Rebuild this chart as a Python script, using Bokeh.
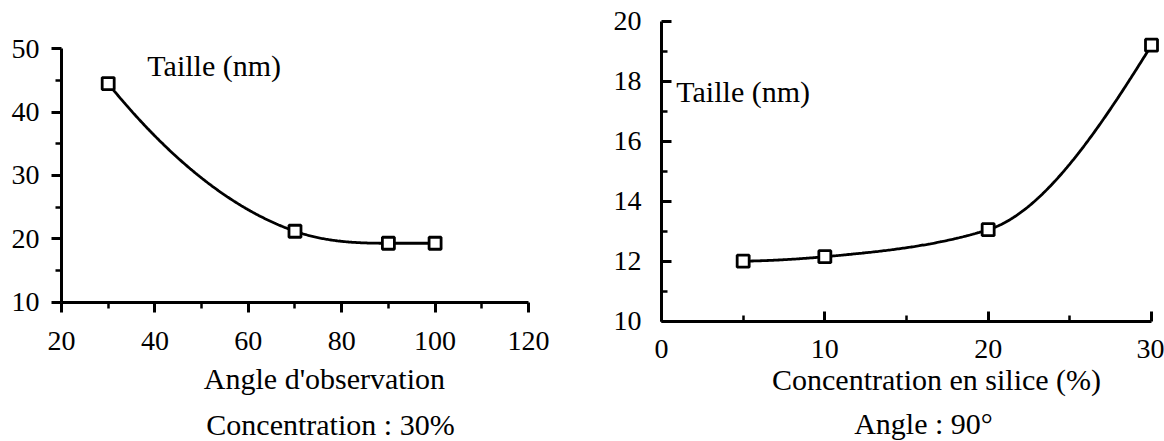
import numpy as np
from bokeh.plotting import figure
from bokeh.models import Range1d, FixedTicker, Label
from bokeh.layouts import row
from bokeh.embed import file_html
from bokeh.resources import INLINE

# ---- data ----
angle = [30, 70, 90, 100]
taille_angle = [44.5, 21.2, 19.3, 19.3]

silice = [5, 10, 20, 30]
taille_silice = [12.0, 12.15, 13.05, 19.2]

left_xticks = [20, 40, 60, 80, 100, 120]
left_xminor = [30, 50, 70, 90, 110]
left_yticks = [10, 20, 30, 40, 50]
left_yminor = [15, 25, 35, 45]

right_xticks = [0, 10, 20, 30]
right_xminor = [5, 15, 25]
right_yticks = [10, 12, 14, 16, 18, 20]
right_yminor = [11, 13, 15, 17, 19]

FONT = "Liberation Serif"


def smooth_curve(x, y, n=300):
    """Cubic Hermite smooth line through the data points (3-point slopes,
    limited so that no segment gets an inflection)."""
    x = np.asarray(x, float)
    y = np.asarray(y, float)
    h = np.diff(x)
    d = np.diff(y) / h
    m = np.zeros_like(y)
    for k in range(1, len(x) - 1):
        if d[k - 1] * d[k] > 0:
            m[k] = (h[k] * d[k - 1] + h[k - 1] * d[k]) / (h[k - 1] + h[k])
        else:
            m[k] = 0.0

    def end(h0, h1, d0, d1):
        if d0 == 0:
            return 0.0
        s = ((2 * h0 + h1) * d0 - h0 * d1) / (h0 + h1)
        if np.sign(s) != np.sign(d0):
            return 0.0
        return s

    m[0] = end(h[0], h[1], d[0], d[1])
    m[-1] = end(h[-1], h[-2], d[-1], d[-2])
    for k in range(len(h)):
        a = d[k] - m[k]
        b = m[k + 1] - d[k]
        if a * b > 0 and abs(b) > 2 * abs(a):
            m[k + 1] = d[k] + 2 * a
    xs = np.linspace(x[0], x[-1], n)
    ys = np.empty_like(xs)
    for i, xv in enumerate(xs):
        k = min(np.searchsorted(x, xv, side="right") - 1, len(x) - 2)
        t = (xv - x[k]) / h[k]
        h00 = 2 * t**3 - 3 * t**2 + 1
        h10 = t**3 - 2 * t**2 + t
        h01 = -2 * t**3 + 3 * t**2
        h11 = t**3 - t**2
        ys[i] = h00 * y[k] + h10 * h[k] * m[k] + h01 * y[k + 1] + h11 * h[k] * m[k + 1]
    return xs, ys


def style_axes(p, inside, xstand, ystand, xbounds, ybounds):
    for ax in (p.xaxis[0], p.yaxis[0]):
        ax.axis_line_width = 3
        ax.axis_line_color = "black"
        ax.major_tick_line_width = 3
        ax.minor_tick_line_width = 2.5
        ax.major_tick_line_color = "black"
        ax.minor_tick_line_color = "black"
        ax.major_label_text_font = FONT
        ax.major_label_text_font_size = "28px"
        ax.major_label_text_color = "black"
        if inside:
            ax.major_tick_in, ax.major_tick_out = 10, 0
            ax.minor_tick_in, ax.minor_tick_out = 6, 0
        else:
            ax.major_tick_in, ax.major_tick_out = 0, 10
            ax.minor_tick_in, ax.minor_tick_out = 0, 6
    p.xaxis[0].major_label_standoff = xstand
    p.yaxis[0].major_label_standoff = ystand
    p.xaxis[0].bounds = xbounds
    p.yaxis[0].bounds = ybounds
    p.xaxis[0].fixed_location = ybounds[0]
    p.yaxis[0].fixed_location = xbounds[0]
    p.xgrid.visible = False
    p.ygrid.visible = False
    p.outline_line_color = None
    p.background_fill_color = "white"
    p.border_fill_color = "white"


def lab(p, x, y, text, size="30px"):
    p.add_layout(Label(x=x, y=y, text=text, text_align="center",
                       text_baseline="alphabetic", text_font=FONT,
                       text_font_size=size, text_color="black"))


# ---- left chart ----
p1 = figure(width=590, height=441, x_range=Range1d(6.94, 133.28), y_range=Range1d(-11.99, 57.62),
            output_backend="svg", toolbar_location=None,
            min_border_left=0, min_border_right=0, min_border_top=0, min_border_bottom=0)
p1.xaxis.ticker = FixedTicker(ticks=left_xticks, minor_ticks=left_xminor)
p1.yaxis.ticker = FixedTicker(ticks=left_yticks, minor_ticks=left_yminor)
style_axes(p1, inside=False, xstand=20, ystand=12, xbounds=(20, 120), ybounds=(10, 50))
xs, ys = smooth_curve(angle, taille_angle)
p1.line(xs, ys, line_width=2.8, line_color="black")
p1.scatter(angle, taille_angle, marker="square", size=12, fill_color="white",
           line_color="black", line_width=2.8)
lab(p1, 52.7, 47.4, "Taille (nm)")
lab(p1, 76.3, -2.0, "Angle d'observation")
lab(p1, 77.6, -9.3, "Concentration : 30%")

# ---- right chart ----
p2 = figure(width=574, height=441, x_range=Range1d(-4.347, 30.796), y_range=Range1d(5.99, 20.69),
            output_backend="svg", toolbar_location=None,
            min_border_left=0, min_border_right=0, min_border_top=0, min_border_bottom=0)
p2.xaxis.ticker = FixedTicker(ticks=right_xticks, minor_ticks=right_xminor)
p2.yaxis.ticker = FixedTicker(ticks=right_yticks, minor_ticks=right_yminor)
style_axes(p2, inside=True, xstand=19, ystand=20, xbounds=(0, 30), ybounds=(10, 20))
xs2, ys2 = smooth_curve(silice, taille_silice)
p2.line(xs2, ys2, line_width=2.8, line_color="black")
p2.scatter(silice, taille_silice, marker="square", size=12, fill_color="white",
           line_color="black", line_width=2.8)
lab(p2, 5.0, 17.65, "Taille (nm)")
lab(p2, 16.84, 8.05, "Concentration en silice (%)")
lab(p2, 16.04, 6.58, "Angle : 90°")

layout = row(p1, p2)
open("out.html", "w").write(file_html(layout, INLINE))
